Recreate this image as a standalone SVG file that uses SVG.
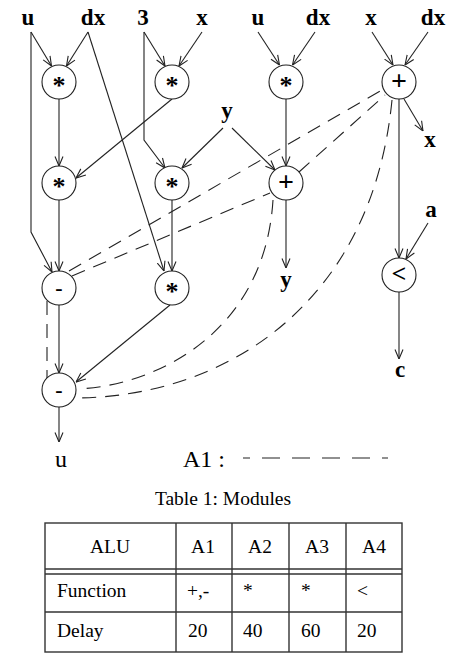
<svg xmlns="http://www.w3.org/2000/svg" width="461" height="670" viewBox="0 0 461 670">
<style>
  .bg{fill:#fff}
  .node circle{fill:#fff;stroke:#222;stroke-width:1.1}
  .sym{font-family:"Liberation Serif",serif;font-weight:bold;text-anchor:middle;fill:#000}
  .ast{font-size:26px}
  .pl{font-size:28px}
  .lt{font-size:26px}
  .mi{font-size:22px}
  .lbl{font-family:"Liberation Serif",serif;font-weight:bold;font-size:23px;text-anchor:middle;fill:#000}
  .reg{font-family:"Liberation Serif",serif;font-size:24px;fill:#000}
  .tt{font-family:"Liberation Serif",serif;font-size:19.5px;fill:#000}
  .e{fill:none;stroke:#222;stroke-width:1.1;marker-end:url(#arr)}
  .d{fill:none;stroke:#222;stroke-width:1.1;stroke-dasharray:14 9}
  .tl{stroke:#333;stroke-width:1.4;fill:none}
</style>
<defs>
  <marker id="arr" viewBox="0 0 10 10" refX="10" refY="5" markerWidth="10" markerHeight="10" markerUnits="userSpaceOnUse" orient="auto">
    <path d="M0.5,1 L10,5 L0.5,9" fill="none" stroke="#222" stroke-width="1.1"/>
  </marker>
</defs>
<rect class="bg" x="0" y="0" width="461" height="670"/>

<g id="labels">
  <text class="lbl" x="28" y="25">u</text>
  <text class="lbl" x="93" y="25">dx</text>
  <text class="lbl" x="143" y="25">3</text>
  <text class="lbl" x="202" y="25">x</text>
  <text class="lbl" x="258" y="25">u</text>
  <text class="lbl" x="318" y="25">dx</text>
  <text class="lbl" x="371" y="25">x</text>
  <text class="lbl" x="433" y="25">dx</text>
  <text class="lbl" x="227" y="118">y</text>
  <text class="lbl" x="430" y="147">x</text>
  <text class="lbl" x="431" y="217">a</text>
  <text class="lbl" x="286" y="287">y</text>
  <text class="lbl" x="400" y="377">c</text>
  <text class="reg" x="61" y="467" text-anchor="middle">u</text>
</g>

<g id="connectors">
  <line class="e" x1="31" y1="32" x2="51.5" y2="66"/>
  <line class="e" x1="88" y1="32" x2="66.5" y2="66"/>
  <line class="e" x1="88" y1="32" x2="164" y2="271"/>
  <line class="e" x1="144" y1="32" x2="165" y2="66"/>
  <polyline class="e" points="144,32 144,140 165,168"/>
  <line class="e" x1="202" y1="32" x2="179" y2="66"/>
  <line class="e" x1="59" y1="99" x2="59" y2="166"/>
  <line class="e" x1="172" y1="99" x2="76" y2="178"/>
  <line class="e" x1="223" y1="128" x2="182" y2="168"/>
  <line class="e" x1="232" y1="128" x2="275" y2="170"/>
  <line class="e" x1="258" y1="32" x2="279.5" y2="65"/>
  <line class="e" x1="315" y1="32" x2="292.5" y2="65"/>
  <line class="e" x1="286" y1="99" x2="286" y2="166"/>
  <line class="e" x1="372" y1="32" x2="393" y2="65"/>
  <line class="e" x1="428" y1="32" x2="405" y2="65"/>
  <line class="e" x1="404" y1="99" x2="423" y2="131"/>
  <line class="e" x1="399" y1="99" x2="399" y2="258"/>
  <line class="e" x1="428" y1="223" x2="406" y2="259"/>
  <line class="e" x1="399" y1="292" x2="399" y2="359"/>
  <line class="e" x1="286" y1="200" x2="286" y2="268"/>
  <polyline class="e" points="31,32 31,232 52,272"/>
  <line class="e" x1="59" y1="200" x2="59" y2="271"/>
  <line class="e" x1="172" y1="200" x2="172" y2="271"/>
  <line class="e" x1="59" y1="305" x2="59" y2="373"/>
  <line class="e" x1="170" y1="305" x2="76" y2="382"/>
  <line class="e" x1="59" y1="407" x2="59" y2="442"/>

  <line class="d" x1="69" y1="271" x2="382" y2="90"/>
  <line class="d" x1="72" y1="276" x2="270" y2="193"/>
  <line class="d" x1="299" y1="172" x2="385" y2="95"/>
  <path class="d" d="M273,200 C265,330 160,385 78,389"/>
  <path class="d" d="M392,100 C372,305 225,396 78,398"/>
  <line class="d" x1="47" y1="301" x2="47" y2="378"/>
</g>

<g id="n1" class="node"><circle cx="59" cy="82" r="17"/><text class="sym ast" x="59" y="94">*</text></g>
<g id="n2" class="node"><circle cx="172" cy="82" r="17"/><text class="sym ast" x="172" y="94">*</text></g>
<g id="n3" class="node"><circle cx="286" cy="82" r="17"/><text class="sym ast" x="286" y="94">*</text></g>
<g id="n4" class="node"><circle cx="399" cy="82" r="17"/><text class="sym pl" x="399" y="89.5">+</text></g>
<g id="n5" class="node"><circle cx="59" cy="183" r="17"/><text class="sym ast" x="59" y="195">*</text></g>
<g id="n6" class="node"><circle cx="172" cy="183" r="17"/><text class="sym ast" x="172" y="195">*</text></g>
<g id="n7" class="node"><circle cx="286" cy="183" r="17"/><text class="sym pl" x="286" y="190.5">+</text></g>
<g id="n8" class="node"><circle cx="59" cy="288" r="17"/><text class="sym mi" x="59" y="295">-</text></g>
<g id="n9" class="node"><circle cx="172" cy="288" r="17"/><text class="sym ast" x="172" y="300">*</text></g>
<g id="n10" class="node"><circle cx="399" cy="275" r="17"/><text class="sym lt" x="399" y="282">&lt;</text></g>
<g id="n11" class="node"><circle cx="59" cy="390" r="17"/><text class="sym mi" x="59" y="397">-</text></g>

<g id="legend">
  <text class="reg" x="183" y="467">A1 :</text>
  <line x1="243" y1="458" x2="388" y2="458" stroke="#222" stroke-width="1.1" stroke-dasharray="18 12" stroke-dashoffset="11"/>
</g>

<g id="table">
  <text class="tt" x="223" y="505" text-anchor="middle">Table 1: Modules</text>
  <rect class="tl" x="45" y="523" width="357" height="129"/>
  <line class="tl" x1="176" y1="523" x2="176" y2="652"/>
  <line class="tl" x1="232" y1="523" x2="232" y2="652"/>
  <line class="tl" x1="289" y1="523" x2="289" y2="652"/>
  <line class="tl" x1="346" y1="523" x2="346" y2="652"/>
  <line class="tl" x1="45" y1="569" x2="402" y2="569"/>
  <line class="tl" x1="45" y1="574" x2="402" y2="574"/>
  <line class="tl" x1="45" y1="612" x2="402" y2="612"/>
  <text class="tt" x="110" y="553" text-anchor="middle">ALU</text>
  <text class="tt" x="203" y="553" text-anchor="middle">A1</text>
  <text class="tt" x="260" y="553" text-anchor="middle">A2</text>
  <text class="tt" x="317" y="553" text-anchor="middle">A3</text>
  <text class="tt" x="374" y="553" text-anchor="middle">A4</text>
  <text class="tt" x="57" y="597">Function</text>
  <text class="tt" x="187" y="597">+,-</text>
  <text class="tt" x="243" y="597">*</text>
  <text class="tt" x="301" y="597">*</text>
  <text class="tt" x="357" y="597">&lt;</text>
  <text class="tt" x="57" y="637">Delay</text>
  <text class="tt" x="188" y="637">20</text>
  <text class="tt" x="243" y="637">40</text>
  <text class="tt" x="301" y="637">60</text>
  <text class="tt" x="357" y="637">20</text>
</g>
</svg>
